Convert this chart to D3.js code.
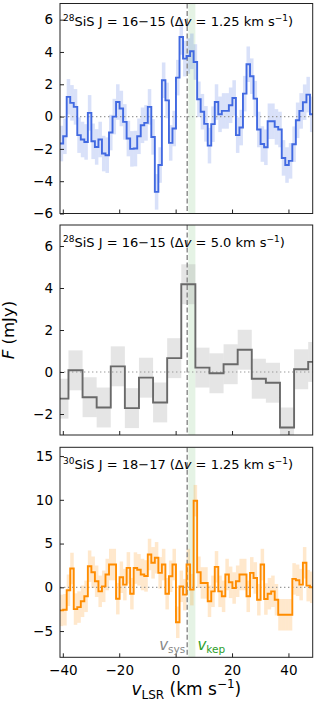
<!DOCTYPE html>
<html>
<head>
<meta charset="utf-8">
<script src="https://cdn.jsdelivr.net/npm/d3@7"></script>
<style>
  body { margin: 0; background: #fff; }
  svg text { font-family: "DejaVu Sans", sans-serif; fill: #000; }
</style>
</head>
<body>
<svg id="chart" width="317" height="704"></svg>
<script>
// channel grid (km/s): first channel centre
const v0 = -40.5

// 28SiS J=16-15 at 1.25 km/s (mJy)
const sis28_fine = [
  -1.67, -1.22, 1.22, 0.85, 0.6, -1.15, -1.42, -1.57, 0.23, -1.53,
  -1.88, -1.42, -2.29, -2.39, -0.99, 0.0, 0.9, 0.5, -0.33, -1.36,
  -2.0, -1.98, -1.22, -0.54, -0.39, 0.6, -1.26, -4.66, -3.0, 2.25,
  1.0, -1.63, -0.74, 2.41, 4.93, 3.59, 3.75, 4.04, 3.38, 1.07,
  0.3, -0.45, -1.8, -0.47, 0.9, 0.14, 0.35, 0.35, 0.7, 1.15,
  -1.15, -0.68, 1.42, 3.24, 2.5, 1.11, -0.8, -1.7, -1.9, -0.29,
  -0.29, -0.64, -0.8, -2.56, -3.0, -2.74, -1.71, -0.23, 0.35, 0.89,
  1.36, 0.14
]
// 28SiS J=16-15 at 5 km/s
const sis28_coarse = [
  -1.27, 0.08, -1.2, -1.69, 0.27, -1.72, -0.27, -1.45, 0.66, 4.18,
  0.21, -0.06, 0.37, 1.06, -0.32, -0.51, -2.64, 0.13, 0.48
]
// 30SiS J=18-17 at 1.25 km/s
const sis30_fine = [
  -2.64, -2.57, -0.34, 2.15, -2.49, -2.26, -1.6, -1.03, 2.41, 1.72,
  0.69, -0.46, 0.11, 1.46, 2.6, 2.6, -1.3, 1.15, 0.31, 2.22,
  -0.73, 2.2, 2.0, 1.46, 1.3, 3.75, 2.8, 3.37, 1.65, 2.6,
  -0.73, 1.26, 2.6, -4.0, 0.11, -0.84, 2.6, -0.27, 9.9, 1.72,
  0.5, 0.5, -1.6, -0.46, 2.34, -0.46, -1.03, 1.46, 0.57, -0.08,
  0.69, 1.46, 1.46, -1.03, 1.65, 1.07, -1.42, 2.6, -1.34, -0.73,
  -0.46, -1.42, -3.14, -3.14, -3.14, -3.14, 0.96, 0.8, 0.31, 2.8,
  0.19, 0.0
]
// 1 sigma noise per spectrum
const noise = [1.1, 0.95, 1.8]

const vsys = 4.1
const vkep = [4.5, 7.0]

const xTicks = [-40, -20, 0, 20, 40]

const svg = d3.select("#chart")

const left = 60, right = 312.7, panelH = 210
const x = d3.scaleLinear().domain([-41, 48.6]).range([left, right])

const panels = [
  { iso: "28", tr: "16\u221215", dv: "1.25", width: 1.25, vals: sis28_fine, err: noise[0],
    ydom: [-6, 7], yticks: [-6, -4, -2, 0, 2, 4, 6], top: 3.5,
    line: "#4169e1", fill: "#4169e1", fillOp: 0.2 },
  { iso: "28", tr: "16\u221215", dv: "5.0", width: 5, vals: sis28_coarse, err: noise[1],
    ydom: [-3, 7], yticks: [-2, 0, 2, 4, 6], top: 225,
    line: "#696969", fill: "#a9a9a9", fillOp: 0.3 },
  { iso: "30", tr: "18\u221217", dv: "1.25", width: 1.25, vals: sis30_fine, err: noise[2],
    ydom: [-8, 16], yticks: [-5, 0, 5, 10, 15], top: 447.3,
    line: "#ff8c00", fill: "#ff8c00", fillOp: 0.2 }
]

const minus = d => d < 0 ? "\u2212" + Math.abs(d) : d

panels.forEach(function(p, pi){
    const y = d3.scaleLinear().domain(p.ydom).range([p.top + panelH, p.top])
    const g = svg.append("g")

    const clipId = "clip" + pi
    svg.append("clipPath").attr("id", clipId)
        .append("rect")
        .attr("x", left).attr("y", p.top)
        .attr("width", right - left).attr("height", panelH)

    const inner = g.append("g").attr("clip-path", "url(#" + clipId + ")")

    // keplerian velocity band
    inner.append("rect")
        .attr("x", x(vkep[0])).attr("y", p.top)
        .attr("width", x(vkep[1]) - x(vkep[0])).attr("height", panelH)
        .style("fill", "#2ca02c").style("opacity", 0.12)

    const chans = p.vals.map((d, i) => ({ v: v0 + p.width * i, f: d }))

    // noise boxes
    inner.selectAll("rect.err")
        .data(chans)
        .enter()
        .append("rect")
        .attr("class", "err")
        .attr("x", d => x(d.v - p.width / 2))
        .attr("width", d => x(d.v + p.width / 2) - x(d.v - p.width / 2))
        .attr("y", d => y(d.f + p.err))
        .attr("height", d => y(d.f - p.err) - y(d.f + p.err))
        .style("fill", p.fill).style("fill-opacity", p.fillOp)

    // zero line
    inner.append("line")
        .attr("x1", left).attr("x2", right)
        .attr("y1", y(0)).attr("y2", y(0))
        .style("stroke", "#999").style("stroke-width", 1.2)
        .style("stroke-dasharray", "1.4,2.6")

    // systemic velocity
    inner.append("line")
        .attr("x1", x(vsys)).attr("x2", x(vsys))
        .attr("y1", p.top).attr("y2", p.top + panelH)
        .style("stroke", "#888").style("stroke-width", 1.4)
        .style("stroke-dasharray", "5,2.5")

    // spectrum as steps-mid
    const pts = [[chans[0].v - p.width / 2, chans[0].f]]
        .concat(chans.map(d => [d.v, d.f]))
        .concat([[chans[chans.length - 1].v + p.width / 2, chans[chans.length - 1].f]])

    const step = d3.line()
        .x(d => x(d[0]))
        .y(d => y(d[1]))
        .curve(d3.curveStep)

    inner.append("path")
        .attr("d", step(pts))
        .style("fill", "none")
        .style("stroke", p.line)
        .style("stroke-width", 1.9)

    // frame
    g.append("rect")
        .attr("x", left).attr("y", p.top)
        .attr("width", right - left).attr("height", panelH)
        .style("fill", "none").style("stroke", "#222").style("stroke-width", 1)

    // y axis, ticks inside
    const yAxis = d3.axisLeft(y).tickValues(p.yticks).tickSizeInner(-4).tickSizeOuter(0)
        .tickPadding(7).tickFormat(minus)
    const ya = g.append("g").attr("transform", "translate(" + left + ",0)").call(yAxis)
    ya.select(".domain").remove()
    ya.selectAll("line").style("stroke", "#222")
    ya.selectAll("text").style("font-size", "13.5px")

    // x axis, ticks inside, labels only on the last panel
    const xAxis = d3.axisBottom(x).tickValues(xTicks).tickSizeInner(-4).tickSizeOuter(0)
        .tickPadding(8).tickFormat(d => pi === 2 ? minus(d) : "")
    const xa = g.append("g").attr("transform", "translate(0," + (p.top + panelH) + ")").call(xAxis)
    xa.select(".domain").remove()
    xa.selectAll("line").style("stroke", "#222")
    xa.selectAll("text").style("font-size", "13.5px")

    // panel label
    const t = g.append("text")
        .attr("x", left + 3).attr("y", p.top + 22)
        .style("font-size", "13px")
    t.append("tspan").text(p.iso).style("font-size", "9px").attr("dy", "-5")
    t.append("tspan").text("SiS J = " + p.tr + " (\u0394").attr("dy", "5")
    t.append("tspan").text("v").style("font-style", "italic")
    t.append("tspan").text(" = " + p.dv + " km s")
    t.append("tspan").text("\u22121").style("font-size", "9px").attr("dy", "-5")
    t.append("tspan").text(")").attr("dy", "5")

    if (pi === 2) {
        const yb = p.top + panelH - 7
        const ls = g.append("text").attr("x", x(vsys) - 2).attr("y", yb)
            .attr("text-anchor", "end").style("font-size", "15px")
        ls.append("tspan").text("v").style("font-style", "italic").style("fill", "#888")
        ls.append("tspan").text("sys").style("font-size", "10.5px").attr("dy", "3").style("fill", "#888")
        const lk = g.append("text").attr("x", x(vkep[1]) + 2).attr("y", yb)
            .style("font-size", "15px")
        lk.append("tspan").text("v").style("font-style", "italic").style("fill", "#2ca02c")
        lk.append("tspan").text("kep").style("font-size", "10.5px").attr("dy", "3").style("fill", "#2ca02c")
    }
})

// axis titles
const yl = svg.append("text")
    .attr("transform", "translate(14,330) rotate(-90)")
    .attr("text-anchor", "middle")
    .style("font-size", "16.5px")
yl.append("tspan").text("F").style("font-style", "italic")
yl.append("tspan").text(" (mJy)")

const xl = svg.append("text")
    .attr("x", (left + right) / 2).attr("y", 695)
    .attr("text-anchor", "middle")
    .style("font-size", "17px")
xl.append("tspan").text("v").style("font-style", "italic")
xl.append("tspan").text("LSR").style("font-size", "12px").attr("dy", "4")
xl.append("tspan").text(" (km s").attr("dy", "-4")
xl.append("tspan").text("\u22121").style("font-size", "12px").attr("dy", "-7")
xl.append("tspan").text(")").attr("dy", "7")
</script>
</body>
</html>
